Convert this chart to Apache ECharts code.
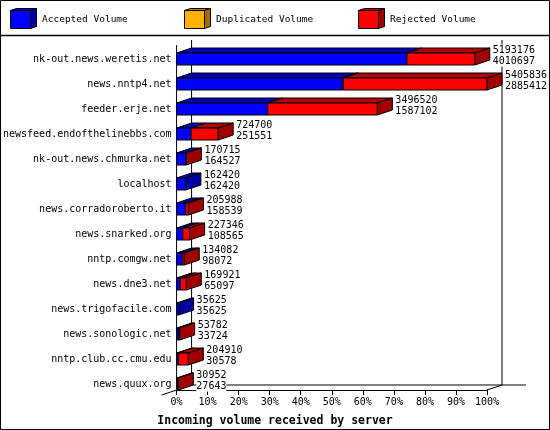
<!DOCTYPE html>
<html><head><meta charset="utf-8">
<script src="https://cdn.jsdelivr.net/npm/echarts@6/dist/echarts.min.js"></script>
<style>html,body{margin:0;padding:0;background:#fff}#c{width:550px;height:430px}</style>
</head><body><div id="c"></div><script>
const servers = ['nk-out.news.weretis.net','news.nntp4.net','feeder.erje.net','newsfeed.endofthelinebbs.com','nk-out.news.chmurka.net','localhost','news.corradoroberto.it','news.snarked.org','nntp.comgw.net','news.dne3.net','news.trigofacile.com','news.sonologic.net','nntp.club.cc.cmu.edu','news.quux.org'];
const totalVolume = [5193176,5405836,3496520,724700,170715,162420,205988,227346,134082,169921,35625,53782,204910,30952];
const acceptedVolume = [4010697,2885412,1587102,251551,164527,162420,158539,108565,98072,65097,35625,33724,30578,27643];
const duplicatedVolume = [0,18000,0,0,0,0,0,0,0,0,0,0,0,0];
const rejectedVolume = totalVolume.map((t,i)=>t-acceptedVolume[i]-duplicatedVolume[i]);
const legendNames = ['Accepted Volume','Duplicated Volume','Rejected Volume'];
const xTitle = 'Incoming volume received by server';

const FRONT = ['#0000ff','#ffb000','#ff0000'];
const TOP = ['#0000b4','#b47c00','#b40000'];
const SIDE = ['#0000a0','#a06e00','#a00000'];
const DX = 15, DY = -5, HALF = 6;
const FONT = '10px "DejaVu Sans Mono"';
const maxTotal = Math.max(...totalVolume);
const pct = v => v / maxTotal * 100;

const barData = servers.map((s,i)=>[i, pct(acceptedVolume[i]), pct(duplicatedVolume[i]), pct(rejectedVolume[i]), totalVolume[i], acceptedVolume[i]]);

function renderBar(params, api){
  const ci = api.value(0);
  const segs = [api.value(1), api.value(2), api.value(3)];
  const cy = api.coord([0, ci])[1];
  const y0 = cy - HALF, y1 = cy + HALF;
  const children = [];
  let start = 0, last = -1, xb = api.coord([0, ci])[0];
  segs.forEach((v,k)=>{ if (v > 0) last = k; });
  segs.forEach((v,k)=>{
    if (v <= 0) return;
    const xa = api.coord([start, ci])[0];
    const xe = api.coord([start + v, ci])[0];
    children.push({type:'polygon', shape:{points:[[xa,y0],[xa+DX,y0+DY],[xe+DX,y0+DY],[xe,y0]]}, style:{fill:TOP[k], stroke:'#000', lineWidth:1}});
    children.push({type:'rect', shape:{x:xa, y:y0, width:xe-xa, height:y1-y0}, style:{fill:FRONT[k], stroke:'#000', lineWidth:1}});
    start += v; xb = xe;
  });
  if (last >= 0) {
    children.push({type:'polygon', shape:{points:[[xb,y0],[xb+DX,y0+DY],[xb+DX,y1+DY],[xb,y1]]}, style:{fill:SIDE[last], stroke:'#000', lineWidth:1}});
  }
  children.push({type:'text', style:{text: api.value(4) + '\n' + api.value(5), x: xb + DX + 3, y: cy - 3.5, verticalAlign:'middle', align:'left', font: FONT, lineHeight: 11, fill:'#000', backgroundColor:'#fff'}});
  return {type:'group', children};
}

function renderFrame(params, api){
  const p0 = api.coord([0, 0]);
  const pLast = api.coord([100, servers.length - 1]);
  const band = api.size([0, 1])[1];
  const x0 = p0[0], x1 = pLast[0];
  const floor = pLast[1] + HALF;
  const top = p0[1] - band / 2 + DY - 1.5;
  const ls = {stroke:'#000', lineWidth:1};
  const L = (a,b,c,d)=>({type:'line', shape:{x1:a,y1:b,x2:c,y2:d}, style:ls});
  return {type:'group', children:[
    L(x0+DX, top, x0+DX, floor+DY),
    L(x1+DX, top, x1+DX, floor+DY),
    L(x0+DX, floor+DY, x1+DX+24, floor+DY),
    L(x0, top-DY, x0, floor),
    L(x1, floor, x1+DX, floor+DY),
    L(x0, floor, x0-DX, floor-DY)
  ]};
}

function cube(x, y, k){
  const w = 20, h = 18, dx = 6, dy = -2;
  return [
    {type:'polygon', shape:{points:[[x,y],[x+dx,y+dy],[x+w+dx,y+dy],[x+w,y]]}, style:{fill:TOP[k], stroke:'#000', lineWidth:1}},
    {type:'polygon', shape:{points:[[x+w,y],[x+w+dx,y+dy],[x+w+dx,y+h+dy],[x+w,y+h]]}, style:{fill:SIDE[k], stroke:'#000', lineWidth:1}},
    {type:'rect', shape:{x:x, y:y, width:w, height:h}, style:{fill:FRONT[k], stroke:'#000', lineWidth:1}}
  ];
}

const legendX = [10, 184, 358];
const graphics = [
  {type:'rect', shape:{x:0.5, y:0.5, width:549, height:429}, style:{fill:null, stroke:'#000', lineWidth:1}, z:100},
  {type:'line', shape:{x1:0, y1:35.5, x2:550, y2:35.5}, style:{stroke:'#000', lineWidth:1.5}, z:100}
];
legendX.forEach((x,k)=>{
  cube(x+0.5, 10.5, k).forEach(g=>graphics.push(g));
  graphics.push({type:'text', style:{text:legendNames[k], x:x+32, y:20, verticalAlign:'middle', font:'9.5px "DejaVu Sans Mono"', fill:'#000'}});
});

const chart = echarts.init(document.getElementById('c'), null, {renderer:'canvas'});
chart.setOption({
  animation:false,
  backgroundColor:'#fff',
  grid:{left:176.5, right:63, top:46.5, height:350},
  title:{text:xTitle, left:'center', top:410, textStyle:{fontFamily:'DejaVu Sans Mono', fontWeight:'bold', fontSize:11.5, color:'#000'}},
  xAxis:{type:'value', min:0, max:100, interval:10, offset:-6.5,
    axisLine:{show:true, lineStyle:{color:'#000', width:1}},
    axisTick:{show:true, length:5, lineStyle:{color:'#000'}},
    axisLabel:{formatter:'{value}%', fontFamily:'DejaVu Sans Mono', fontSize:10, color:'#000', margin:7},
    splitLine:{show:false}},
  yAxis:{type:'category', data:servers, inverse:true,
    axisLine:{show:false}, axisTick:{show:false}, splitLine:{show:false},
    axisLabel:{fontFamily:'DejaVu Sans Mono', fontSize:10, color:'#000', margin:5}},
  graphic:graphics,
  series:[
    {type:'custom', name:'frame', data:[[0,0]], encode:{x:0, y:1}, renderItem:renderFrame, silent:true},
    {type:'custom', name:'volume', data:barData, encode:{x:1, y:0}, renderItem:renderBar}
  ]
});
</script></body></html>
